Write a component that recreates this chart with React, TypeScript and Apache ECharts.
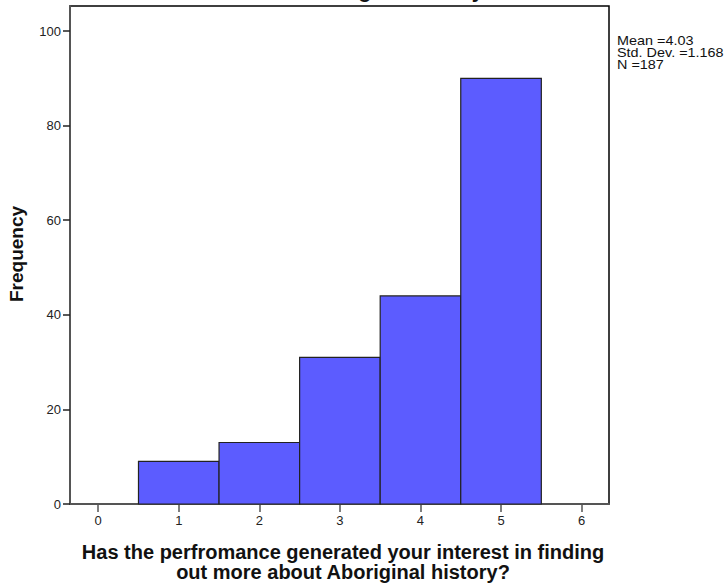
import React, { useEffect, useRef } from "react";
import * as echarts from "echarts";

const categories = [1, 2, 3, 4, 5];
const frequencies = [9, 13, 31, 44, 90];
const xTicks = [0, 1, 2, 3, 4, 5, 6];
const yTicks = [0, 20, 40, 60, 80, 100];
const statsLines = ["Mean =4.03", "Std. Dev. =1.168", "N =187"];
const xTitle = "Has the perfromance generated your interest in finding\nout more about Aboriginal history?";
const yTitle = "Frequency";
const chartTitle = "out more about Aboriginal history?";

export default function App() {
  const ref = useRef<HTMLDivElement>(null);
  useEffect(() => {
    if (!ref.current) return;
    const chart = echarts.init(ref.current, null, { renderer: "svg" });
    const font = "Arial, 'Liberation Sans', sans-serif";
    chart.setOption({
      animation: false,
      backgroundColor: "#fff",
      grid: {
        left: 70,
        top: 6,
        right: 119,
        bottom: 84,
        show: true,
        borderColor: "#000",
        borderWidth: 1.5,
        backgroundColor: "#fff",
      },
      xAxis: {
        type: "value",
        min: -0.35,
        max: 6.34,
        splitLine: { show: false },
        axisLine: { show: true, onZero: false, lineStyle: { color: "#555", width: 2 } },
        axisTick: { show: true, customValues: xTicks, length: 8, lineStyle: { color: "#555", width: 1.5 } },
        axisLabel: { customValues: xTicks, color: "#222", fontSize: 13, fontFamily: font, margin: 10 },
      },
      yAxis: {
        type: "value",
        min: 0,
        max: 105.3,
        splitLine: { show: false },
        axisLine: { show: true, onZero: false, lineStyle: { color: "#555", width: 2 } },
        axisTick: { show: true, customValues: yTicks, length: 7, lineStyle: { color: "#222", width: 1.5 } },
        axisLabel: { customValues: yTicks, color: "#222", fontSize: 13, fontFamily: font, margin: 9 },
      },
      series: [
        {
          type: "custom",
          data: categories.map((c, i) => [c, frequencies[i]]),
          renderItem: (params: any, api: any) => {
            const x = api.value(0);
            const y = api.value(1);
            const p1 = api.coord([x - 0.5, y]);
            const p2 = api.coord([x + 0.5, 0]);
            return {
              type: "rect",
              shape: { x: p1[0], y: p1[1], width: p2[0] - p1[0], height: p2[1] - p1[1] },
              style: { fill: "#5c5cff", stroke: "#222", lineWidth: 1.2 },
            };
          },
          z: 1,
        },
      ],
      graphic: [
        {
          type: "text",
          x: 617,
          y: 35,
          scaleX: 1.2,
          style: {
            text: statsLines.join("\n"),
            font: `12px ${font}`,
            fill: "#111",
            lineHeight: 12,
          },
        },
        {
          type: "text",
          x: 16,
          y: 254,
          rotation: Math.PI / 2,
          style: {
            text: yTitle,
            font: `bold 19px ${font}`,
            fill: "#111",
            align: "center",
            verticalAlign: "middle",
          },
        },
        {
          type: "text",
          x: 343,
          y: 542,
          style: {
            text: xTitle,
            font: `bold 20px ${font}`,
            fill: "#111",
            align: "center",
            verticalAlign: "top",
            lineHeight: 20,
          },
        },
        {
          type: "text",
          x: 321,
          y: 1,
          style: {
            text: chartTitle,
            font: `bold 21px ${font}`,
            fill: "#111",
            align: "center",
            verticalAlign: "bottom",
          },
        },
      ],
    });
    return () => chart.dispose();
  }, []);
  return (
    <div
      ref={ref}
      style={{ position: "fixed", left: 0, top: 0, width: 728, height: 588 }}
    />
  );
}
